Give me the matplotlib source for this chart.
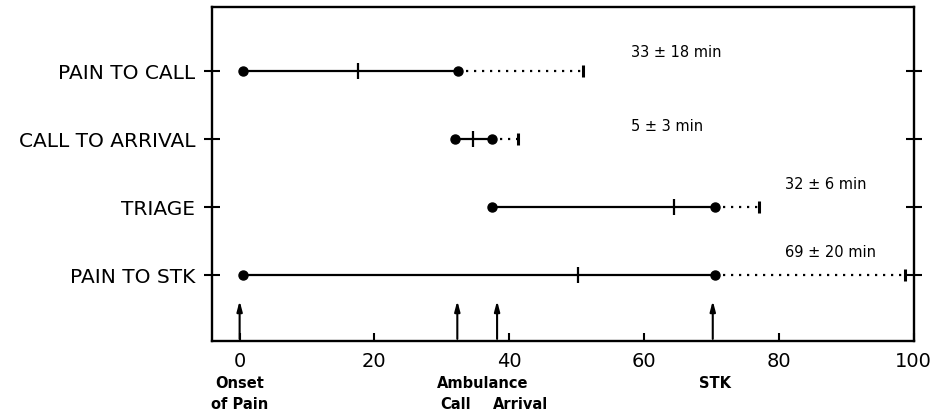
import matplotlib.pyplot as plt
import numpy as np

# time intervals (minutes from onset of pain)
phases = ['PAIN TO STK', 'TRIAGE', 'CALL TO ARRIVAL', 'PAIN TO CALL']
start = [0.5, 37.5, 32.0, 0.5]
median = [50.2, 64.4, 34.6, 17.5]
mean_end = [70.5, 70.6, 37.4, 32.4]
sd_end = [98.7, 77.1, 41.3, 50.9]
labels = ['69 ± 20 min', '32 ± 6 min', '5 ± 3 min', '33 ± 18 min']
label_x = [80.9, 80.9, 58.1, 58.1]
label_y = [1.34, 2.34, 3.19, 4.28]

# events marked on the time axis
event_x = [0, 32.3, 38.2, 70.2]

plt.rcParams['font.family'] = 'DejaVu Sans'
fig = plt.figure(figsize=(9.38, 4.14), dpi=100)
ax = fig.add_axes([0.226, 0.174, 0.748, 0.807])

rows = np.arange(1, len(phases) + 1)
for i, y in enumerate(rows):
    ax.plot([start[i], mean_end[i]], [y, y], color='black', lw=1.6, zorder=3)
    ax.plot([mean_end[i], sd_end[i]], [y, y], color='black', lw=1.6,
            linestyle=(0, (1, 2.6)), zorder=3)
    ax.plot([start[i], mean_end[i]], [y, y], 'o', color='black', ms=6.5, zorder=4)
    ax.plot([median[i]], [y], marker='|', color='black', ms=12, mew=1.6, zorder=4)
    ax.plot([sd_end[i]], [y], marker='|', color='black', ms=8, mew=2.2, zorder=4)
    ax.text(label_x[i], label_y[i], labels[i], fontsize=10.5, va='center', ha='left')

for x in event_x:
    ax.annotate('', xy=(x, 0.62), xytext=(x, 0.06),
                arrowprops=dict(arrowstyle='-|>,head_length=0.6,head_width=0.16',
                                color='black', lw=1.5, shrinkA=0, shrinkB=0))

trans = ax.get_xaxis_transform()
bottom_text = [('Onset', 0, -0.123), ('of Pain', 0, -0.186),
               ('Ambulance', 36.0, -0.123), ('Call', 32.0, -0.186),
               ('Arrival', 41.7, -0.186), ('STK', 70.5, -0.123)]
for txt, x, y in bottom_text:
    ax.text(x, y, txt, transform=trans, ha='center', va='center',
            fontsize=10.5, fontweight='bold', clip_on=False)

ax.set_xlim(-4.1, 100)
ax.set_ylim(0.03, 4.94)
ax.set_xticks([0, 20, 40, 60, 80, 100])
ax.set_yticks(rows)
ax.set_yticklabels(phases, fontsize=14.5)
ax.tick_params(axis='x', direction='in', length=6, width=1.5, labelsize=14, pad=7)
ax.tick_params(axis='y', direction='inout', length=12, width=1.5, right=True, pad=6)
for s in ax.spines.values():
    s.set_linewidth(1.7)

plt.savefig('out.png', dpi=100)
